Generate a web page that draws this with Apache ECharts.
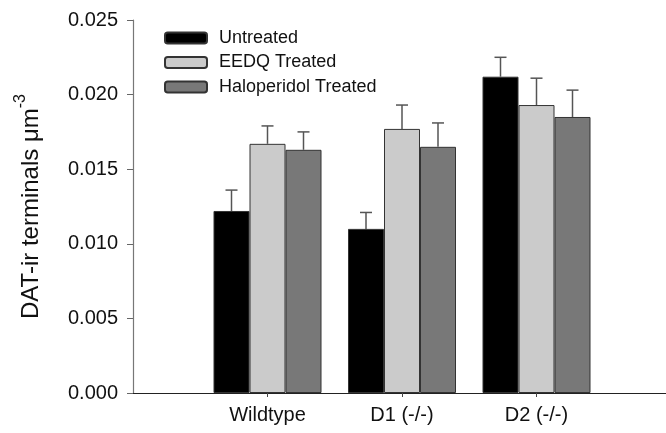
<!DOCTYPE html>
<html>
<head>
<meta charset="utf-8">
<script src="https://cdn.jsdelivr.net/npm/echarts@6/dist/echarts.min.js"></script>
<style>html,body{margin:0;padding:0;background:#fff}#c{width:666px;height:433px}</style>
</head>
<body>
<div id="c"></div>
<script>
const categories = ['', 'Wildtype', 'D1 (-/-)', 'D2 (-/-)', ''];
const seriesNames = ['Untreated', 'EEDQ Treated', 'Haloperidol Treated'];
const untreated = [null, 0.0122, 0.0110, 0.0212];
const untreatedErr = [null, 0.0014, 0.0011, 0.0013];
const eedq = [null, 0.0167, 0.0177, 0.0193];
const eedqErr = [null, 0.0012, 0.0016, 0.0018];
const haloperidol = [null, 0.0163, 0.0165, 0.0185];
const haloperidolErr = [null, 0.0012, 0.0016, 0.0018];
const yTicks = [0, 0.005, 0.010, 0.015, 0.020, 0.025];

const colors = ['#000000', '#cbcbcb', '#787878'];
const values = [untreated, eedq, haloperidol];
const errs = [untreatedErr, eedqErr, haloperidolErr];
const BW = 36;
const offsets = [-BW, 0, BW];

const series = [];
values.forEach((v, i) => {
  series.push({
    name: seriesNames[i], type: 'bar', data: v.concat([null]),
    barWidth: BW, barGap: '0%',
    itemStyle: { color: colors[i], borderColor: '#333', borderWidth: 1 },
    silent: true
  });
});
values.forEach((v, i) => {
  const d = [];
  v.forEach((val, ci) => { if (val != null) d.push([ci, val, errs[i][ci]]); });
  series.push({
    type: 'custom', z: 5, silent: true,
    encode: { x: 0, y: 1 },
    data: d,
    renderItem: function (params, api) {
      const p = api.coord([api.value(0), api.value(1)]);
      const q = api.coord([api.value(0), api.value(1) + api.value(2)]);
      const x = p[0] + offsets[i];
      const st = { stroke: '#555', lineWidth: 1.5 };
      return { type: 'group', children: [
        { type: 'line', shape: { x1: x, y1: p[1], x2: x, y2: q[1] }, style: st },
        { type: 'line', shape: { x1: x - 6, y1: q[1], x2: x + 6, y2: q[1] }, style: st }
      ]};
    }
  });
});

const chart = echarts.init(document.getElementById('c'));
chart.setOption({
  animation: false,
  backgroundColor: '#fff',
  grid: { left: 133, width: 538, top: 20, height: 373, outerBoundsMode: 'none', containLabel: false },
  legend: {
    data: seriesNames, orient: 'vertical', left: 164, top: 29, padding: 0,
    itemWidth: 42, itemHeight: 11, itemGap: 6.5,
    textStyle: { fontFamily: 'Liberation Sans, Arial', fontSize: 18, color: '#111', lineHeight: 18, padding: [0, 0, 0, 7] }
  },
  xAxis: {
    type: 'category', data: categories, boundaryGap: false,
    axisLine: { lineStyle: { color: '#222', width: 1.2 } },
    axisTick: { length: 4, lineStyle: { color: '#444' }, interval: (idx, val) => val !== '' },
    axisLabel: { interval: 0, fontFamily: 'Liberation Sans, Arial', fontSize: 20, color: '#111', margin: 12 },
    splitLine: { show: false }
  },
  yAxis: {
    type: 'value', min: yTicks[0], max: yTicks[yTicks.length - 1], interval: 0.005,
    axisLine: { show: true, lineStyle: { color: '#777', width: 1.2 } },
    axisTick: { show: true, length: 6, lineStyle: { color: '#666' } },
    axisLabel: { formatter: v => v.toFixed(3), fontFamily: 'Liberation Sans, Arial', fontSize: 20, color: '#111', margin: 15 },
    splitLine: { show: false },
    name: '{a|DAT-ir terminals μm}{b|-3}',
    nameLocation: 'middle', nameGap: 90, nameRotate: 90,
    nameTextStyle: {
      rich: {
        a: { fontFamily: 'Liberation Sans, Arial', fontSize: 24, color: '#111', lineHeight: 30, verticalAlign: 'bottom' },
        b: { fontFamily: 'Liberation Sans, Arial', fontSize: 16, color: '#111', lineHeight: 30, verticalAlign: 'top' }
      }
    }
  },
  series: series
});
</script>
</body>
</html>
